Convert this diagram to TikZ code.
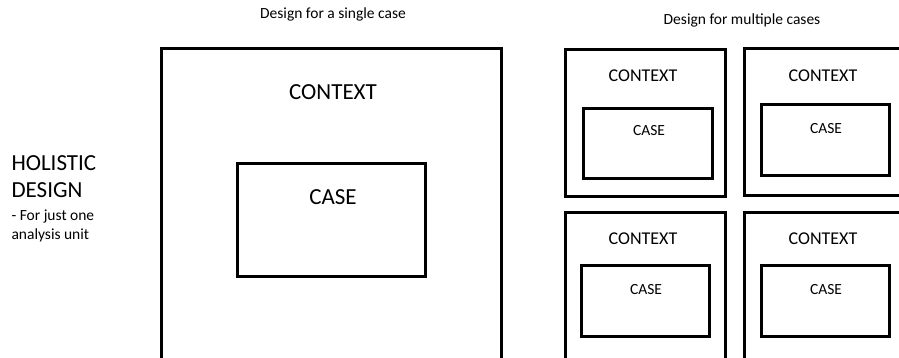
\documentclass[tikz,border=0pt]{standalone}
\usepackage{fontspec}
\setmainfont{Carlito}
\usetikzlibrary{positioning}

\begin{document}
\begin{tikzpicture}
[
x=1pt, y=-1pt,
ctx-box/.style={draw, line width=2.6pt, anchor=north west, inner sep=0pt},
case-box/.style={draw, line width=2.6pt, anchor=north west, inner sep=0pt},
text-a/.style={anchor=base, font=\fontsize{15.5}{18}\selectfont},
text-b/.style={anchor=base, font=\fontsize{23}{26}\selectfont},
text-c/.style={anchor=base, font=\fontsize{18}{21}\selectfont},
text-d/.style={anchor=base, font=\fontsize{15.5}{18}\selectfont},
text-e/.style={anchor=base west, font=\fontsize{23}{26}\selectfont},
text-f/.style={anchor=base west, font=\fontsize{15.5}{18}\selectfont}
]
\clip (0,0) rectangle (899,357);
% left side text
\node (holistic)   [text-e] at (8,170) {HOLISTIC};
\node (design)     [text-e] at (8,197) {DESIGN};
\node (just-one)   [text-f] at (8,220) {- For just one};
\node (unit)       [text-f] at (8,239) {analysis unit};
% single case
\node (title-1)    [text-a] at (333,18) {Design for a single case};
\node (ctx-1)      [ctx-box, minimum width=340pt, minimum height=360pt] at (160,47) {};
\node (ctx-1-id)   [text-b] at (333,99) {CONTEXT};
\node (case-1)     [case-box, minimum width=188pt, minimum height=113pt] at (236,162) {};
\node (case-1-id)  [text-b] at (333,204) {CASE};
% multiple cases
\node (title-2)    [text-a] at (742,24) {Design for multiple cases};
\node (ctx-2)      [ctx-box, minimum width=160pt, minimum height=147pt] at (564,48) {};
\node (ctx-2-id)   [text-c] at (643,81) {CONTEXT};
\node (case-2)     [case-box, minimum width=129pt, minimum height=70pt] at (582,107) {};
\node (case-2-id)  [text-d] at (649,135) {CASE};
\node (ctx-3)      [ctx-box, minimum width=170pt, minimum height=147pt] at (743,47) {};
\node (ctx-3-id)   [text-c] at (823,81) {CONTEXT};
\node (case-3)     [case-box, minimum width=128pt, minimum height=71pt] at (760,103) {};
\node (case-3-id)  [text-d] at (826,133) {CASE};
\node (ctx-4)      [ctx-box, minimum width=160pt, minimum height=170pt] at (564,211) {};
\node (ctx-4-id)   [text-c] at (643,244) {CONTEXT};
\node (case-4)     [case-box, minimum width=128pt, minimum height=71pt] at (580,264) {};
\node (case-4-id)  [text-d] at (646,294) {CASE};
\node (ctx-5)      [ctx-box, minimum width=170pt, minimum height=170pt] at (743,211) {};
\node (ctx-5-id)   [text-c] at (823,244) {CONTEXT};
\node (case-5)     [case-box, minimum width=128pt, minimum height=71pt] at (760,264) {};
\node (case-5-id)  [text-d] at (826,294) {CASE};
\end{tikzpicture}
\end{document}
